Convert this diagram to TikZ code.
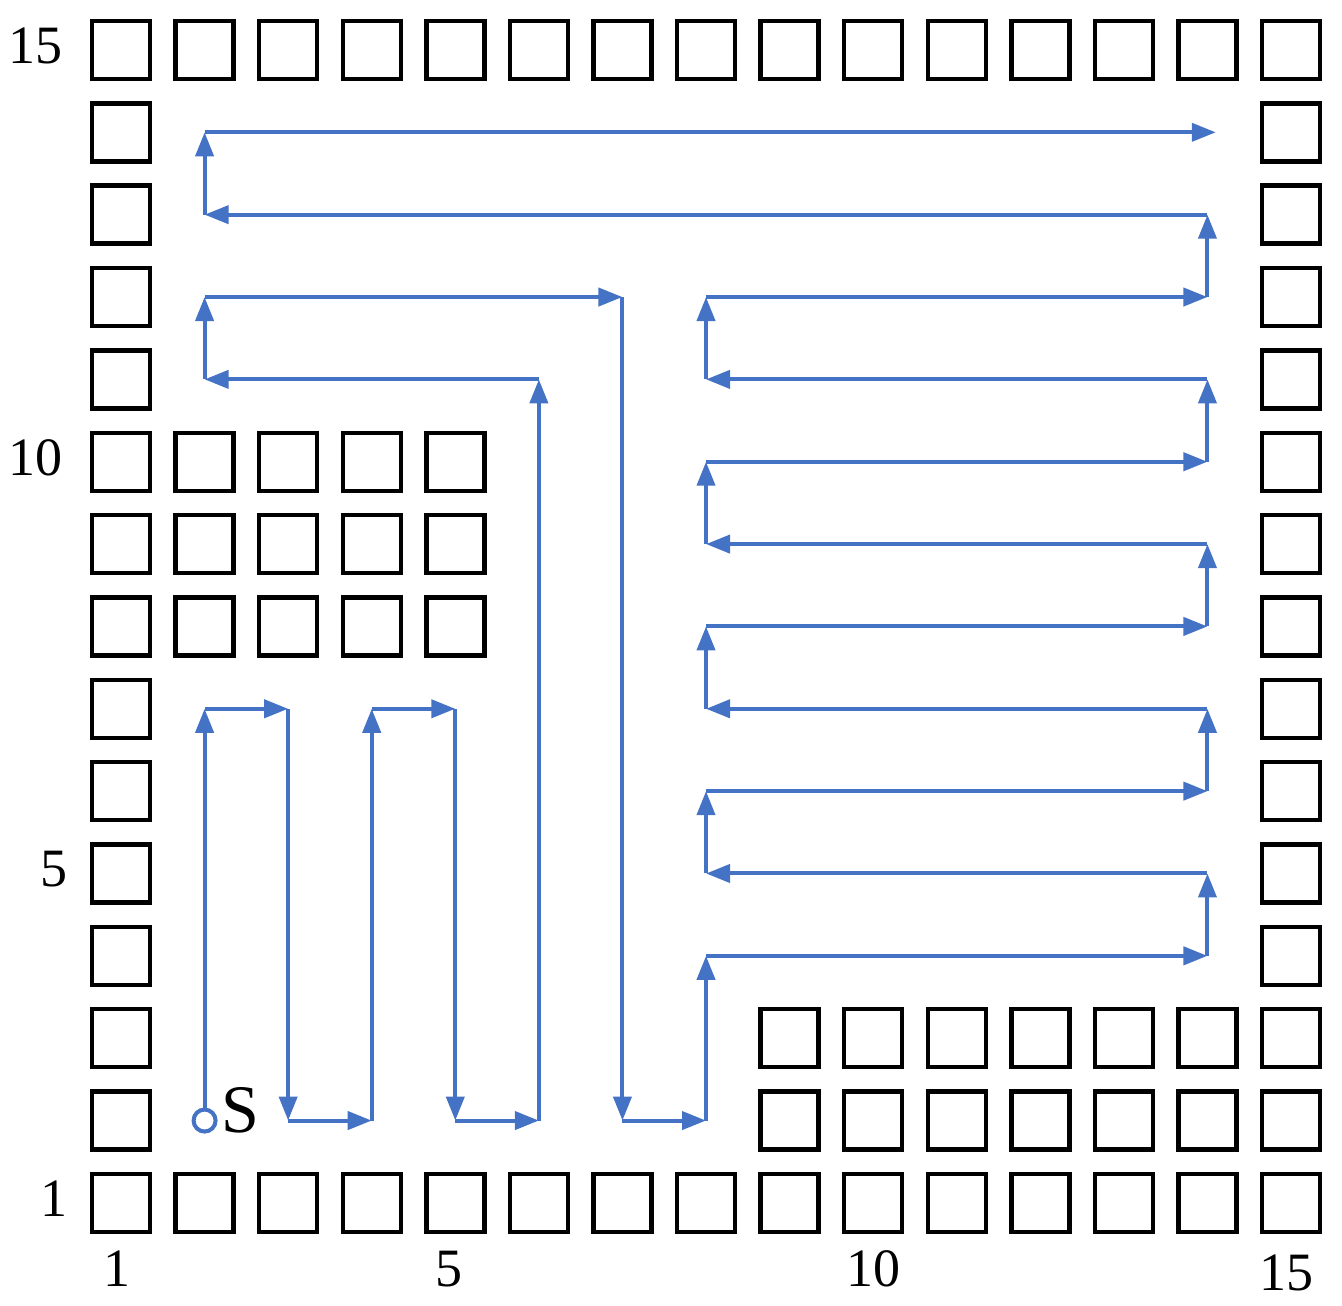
\documentclass[tikz,border=0pt]{standalone}
\usepackage{fontspec}
\setmainfont{Liberation Serif}
\usetikzlibrary{arrows.meta}
\definecolor{pathblue}{HTML}{4472C4}
\begin{document}
\begin{tikzpicture}[x=41.79pt,y=41.18pt,
  cell/.style={draw=black,line width=2.2pt,minimum width=29pt,minimum height=29pt,inner sep=0pt},
  arr/.style={draw=pathblue,line width=2pt,-{Triangle[length=12pt,width=9pt]}},
  lab/.style={font=\fontsize{27}{30}\selectfont,inner sep=0pt}]
\useasboundingbox (-0.448,-0.25) rectangle (15.61,15.607);
% border cells
\foreach \i in {1,...,15}{
  \node[cell] (b\i) at (\i,1) {};
  \node[cell] (t\i) at (\i,15) {};
  \node[cell] (l\i) at (1,\i) {};
  \node[cell] (r\i) at (15,\i) {};
}
\foreach \c in {2,...,5}{\foreach \r in {8,9,10}{\node[cell] (o\c-\r) at (\c,\r) {};}}
\foreach \c in {9,...,14}{\foreach \r in {2,3}{\node[cell] (q\c-\r) at (\c,\r) {};}}
% labels
\node[lab] (y15) at (-0.02,15.05) {15};
\node[lab] (y10) at (-0.02,10.05) {10};
\node[lab] (y5) at (0.2,5.05) {5};
\node[lab] (y1) at (0.2,1.05) {1};
\node[lab] (x1) at (0.95,0.2) {1};
\node[lab] (x5) at (4.92,0.2) {5};
\node[lab] (x10) at (10,0.2) {10};
\node[lab] (x15) at (14.95,0.15) {15};
% start
\node[draw=pathblue,line width=2pt,circle,minimum size=11pt,inner sep=0pt] (s) at (2,2) {};
\node[lab,font=\fontsize{34}{36}\selectfont,anchor=west] (slab) at (2.2,2.12) {S};
% path points
\foreach \c/\r [count=\k] in {2/7,3/7,3/2,4/2,4/7,5/7,5/2,6/2,6/11,2/11,2/12,7/12,7/2,8/2,8/4,14/4,14/5,8/5,8/6,14/6,14/7,8/7,8/8,14/8,14/9,8/9,8/10,14/10,14/11,8/11,8/12,14/12,14/13,2/13,2/14,14.1/14}
  {\coordinate (p\k) at (\c,\r);}
\draw[arr] (s.north) -- (p1);
\foreach \k [evaluate=\k as \j using int(\k+1)] in {1,...,35}
  {\draw[arr] (p\k) -- (p\j);}
\end{tikzpicture}
\end{document}
